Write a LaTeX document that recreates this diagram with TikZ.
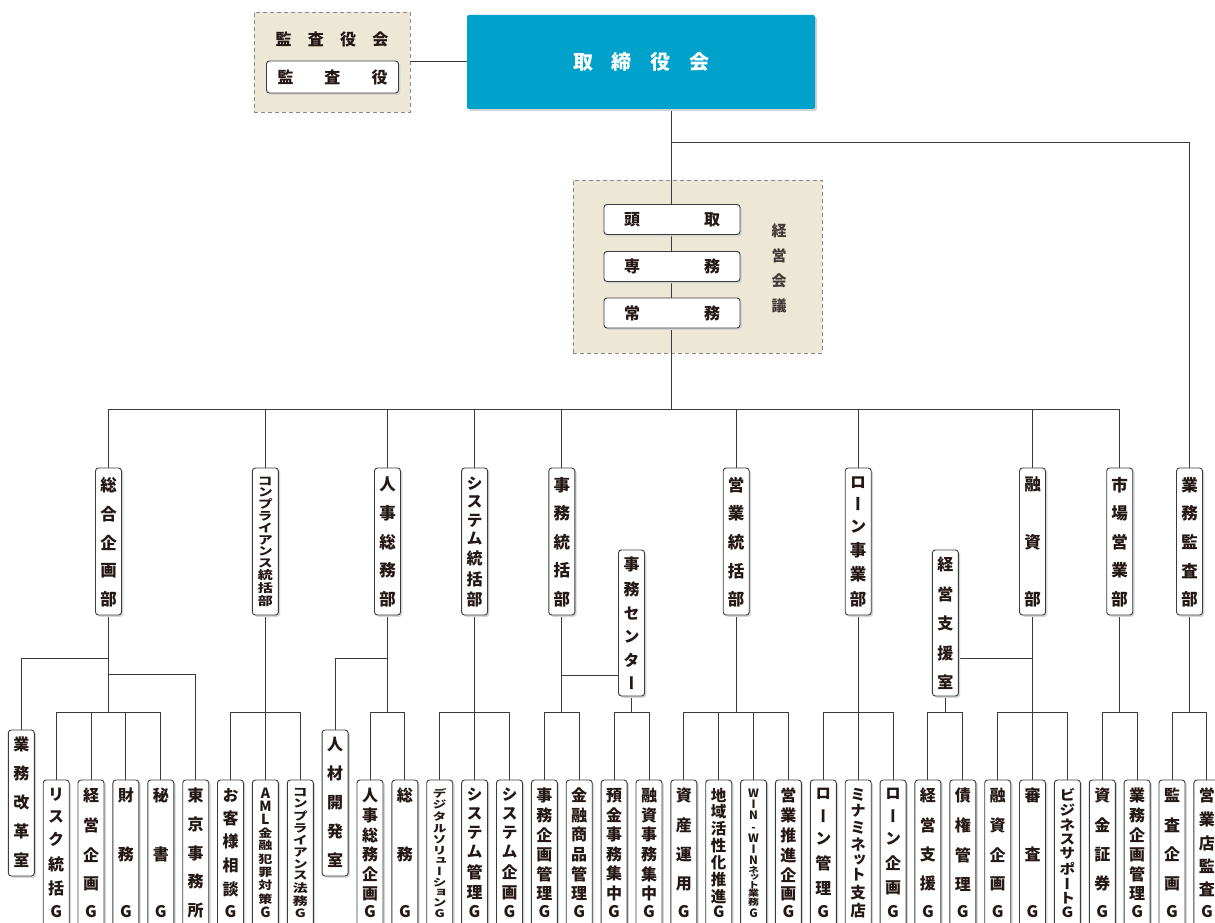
\documentclass[tikz,border=0pt]{standalone}
\usepackage{fontspec}
\usepackage{graphicx}
\setmainfont{Noto Sans CJK JP}
\newfontfamily\jpv{Noto Sans CJK JP}[RawFeature=+vert]
\usetikzlibrary{shadows}
\definecolor{linec}{HTML}{3A3A3A}
\definecolor{boxc}{HTML}{3C3C3C}
\definecolor{txt}{HTML}{231815}
\definecolor{beige}{HTML}{EDE7D6}
\definecolor{dashc}{HTML}{8A8A8A}
\definecolor{cyanbox}{HTML}{00A1CB}
\definecolor{shadowc}{HTML}{D4D4D4}
\makeatletter
\def\vt@stop{\vt@stop}
\def\vt@stopmark{\vt@stop}
\newcommand\VT[6]{% height, top pad, bottom pad, size, yscale, chars
  \parbox[c][#1pt][s]{26pt}{\centering\jpv\bfseries\fontsize{#4}{0}\selectfont
    \lineskip=0pt\lineskiplimit=0pt\def\vt@ys{#5}%
    \vspace*{#2pt}\vt@first#6\vt@stop\vspace*{#3pt}}}
\def\vt@first#1{\vt@char{#1}\par\vt@loop}
\def\vt@loop#1{\def\vt@arg{#1}\ifx\vt@arg\vt@stopmark\else\vfill\vt@char{#1}\par\expandafter\vt@loop\fi}
\def\vt@char#1{\scalebox{1}[\vt@ys]{#1}}
\makeatother
\newcommand\cnd[2]{\fontsize{#1}{0}\selectfont\scalebox{1}[0.8]{#2}}
\newcommand\lat[1]{\raisebox{0pt}[9.5pt][1pt]{#1}}
\newcommand\HT[3]{{\bfseries\fontsize{#2}{#2}\selectfont\makebox[#1pt][s]{#3}}}
\pgfdeclarelayer{bg}
\pgfdeclarelayer{lines}
\pgfsetlayers{bg,lines,main}
\tikzset{
  line/.style={draw=linec, line width=1pt},
  vbox/.style={draw=boxc, line width=0.9pt, fill=white, rounded corners=3pt, inner sep=0pt,
    minimum width=26pt, text=txt,
    drop shadow={shadow xshift=1.8pt, shadow yshift=-1.8pt, fill=shadowc, opacity=1}},
  council/.style={draw=dashc, dash pattern=on 4pt off 3pt, line width=0.9pt, fill=beige, inner sep=0pt},
}
\newcommand\bnode[5]{\node[vbox] (#1) at (#2,865) {\VT{170}{8}{32}{#3}{#4}{#5}};}
\newcommand\dnode[5]{\node[vbox] (#1) at (#2,541.5) {\VT{147}{9}{8}{#3}{#4}{#5}};}
\newcommand\grp[3]{\draw[line] (#1.north) -- (#1.north |- barY) -- (#2.north |- barY) -- (#2.north);
  \draw[line] (#3.south) -- (#3.south |- barY);}
\begin{document}
\begin{tikzpicture}[x=1pt,y=-1pt]
\useasboundingbox (0,0) rectangle (1215,923);
% ---- backgrounds
\begin{pgfonlayer}{bg}
\fill[white] (0,0) rectangle (1215,923);
\node[council, minimum width=156pt, minimum height=100pt] (kyk) at (332,62) {};
\node[council, minimum width=249pt, minimum height=173pt] (keiei) at (697.5,266.5) {};
\end{pgfonlayer}
% ---- top
\node[text=txt, inner sep=0pt] (kykt) at (332,39) {\HT{113}{16}{監\hfill 査\hfill 役\hfill 会}};
\node[vbox, minimum width=132pt, minimum height=32pt] (kansa) at (332.5,77) {\HT{110}{16}{監\hfill 査\hfill 役}};
\node[fill=cyanbox, rounded corners=2pt, minimum width=348pt, minimum height=94pt, inner sep=0pt, text=white,
  drop shadow={shadow xshift=2pt, shadow yshift=-2pt, fill=shadowc, opacity=1}] (tori) at (641,62)
  {\HT{136}{20}{取\hfill 締\hfill 役\hfill 会}};
\node[vbox, minimum width=136pt, minimum height=30pt] (todori) at (672,219.5) {\HT{96}{16}{頭\hfill 取}};
\node[vbox, minimum width=136pt, minimum height=30pt] (senmu) at (672,266.5) {\HT{96}{16}{専\hfill 務}};
\node[vbox, minimum width=136pt, minimum height=30pt] (jomu) at (672,313) {\HT{96}{16}{常\hfill 務}};
\node[inner sep=0pt, text=txt!85] (kkt) at (779,268.5) {\VT{89}{0}{0}{15}{1}{経営会議}};
% ---- departments
\dnode{d0}{108.5}{16.5}{1}{総合企画部}
\dnode{d1}{265.4}{15}{0.78}{コンプライアンス統括部}
\dnode{d2}{387.5}{16.5}{1}{人事総務部}
\dnode{d3}{474.6}{16}{1}{システム統括部}
\dnode{d4}{561.8}{16.5}{1}{事務統括部}
\dnode{d5}{736.2}{16.5}{1}{営業統括部}
\dnode{d6}{858.2}{16.5}{1}{ローン事業部}
\dnode{d7}{1032.5}{16.5}{1}{融資部}
\dnode{d8}{1119.7}{16.5}{1}{市場営業部}
\dnode{d9}{1189.5}{16.5}{1}{業務監査部}
\node[vbox] (jc) at (631.5,623) {\VT{146}{7}{6}{16}{1}{事務センター}};
\node[vbox] (ks) at (945.4,623) {\VT{146}{7}{6}{16}{1}{経営支援室}};
\node[vbox] (b0) at (21.3,803) {\VT{146}{7}{8}{16}{1}{業務改革室}};
\node[vbox] (b9) at (335.1,803) {\VT{146}{7}{8}{16}{1}{人材開発室}};
% ---- bottom groups
\bnode{b1}{56.2}{16}{1}{リスク統括G}
\bnode{b2}{91.0}{16}{1}{経営企画G}
\bnode{b3}{125.9}{16}{1}{財務G}
\bnode{b4}{160.8}{16}{1}{秘書G}
\bnode{b5}{195.7}{16}{1}{東京事務所}
\bnode{b6}{230.5}{16}{1}{お客様相談G}
\bnode{b7}{265.4}{14}{1}{AML{\cnd{14}{金}}{\cnd{14}{融}}{\cnd{14}{犯}}{\cnd{14}{罪}}{\cnd{14}{対}}{\cnd{14}{策}}G}
\bnode{b8}{300.3}{15}{0.76}{コンプライアンス法務G}
\bnode{b10}{370.0}{16}{1}{人事総務企画G}
\bnode{b11}{404.9}{16}{1}{総務G}
\bnode{b12}{439.7}{14}{0.75}{デジタルソリューションG}
\bnode{b13}{474.6}{16}{1}{システム管理G}
\bnode{b14}{509.5}{16}{1}{システム企画G}
\bnode{b15}{544.4}{16}{1}{事務企画管理G}
\bnode{b16}{579.2}{16}{1}{金融商品管理G}
\bnode{b17}{614.1}{16}{1}{預金事務集中G}
\bnode{b18}{649.0}{16}{1}{融資事務集中G}
\bnode{b19}{683.8}{16}{1}{資産運用G}
\bnode{b20}{718.7}{15.5}{1}{地域活性化推進G}
\bnode{b21}{753.6}{11.5}{1}{{\lat{W}}{\lat{I}}{\lat{N}}{\lat{-}}{\lat{W}}{\lat{I}}{\lat{N}}{\cnd{11}{ネ}}{\cnd{11}{ッ}}{\cnd{11}{ト}}{\cnd{11}{業}}{\cnd{11}{務}}{\lat{G}}}
\bnode{b22}{788.4}{16}{1}{営業推進企画G}
\bnode{b23}{823.3}{16}{1}{ローン管理G}
\bnode{b24}{858.2}{15.5}{1}{ミナミネット支店}
\bnode{b25}{893.1}{16}{1}{ローン企画G}
\bnode{b26}{927.9}{16}{1}{経営支援G}
\bnode{b27}{962.8}{16}{1}{債権管理G}
\bnode{b28}{997.7}{16}{1}{融資企画G}
\bnode{b29}{1032.5}{16}{1}{審査G}
\bnode{b30}{1067.4}{16}{0.88}{ビジネスサポートG}
\bnode{b31}{1102.3}{16}{1}{資金証券G}
\bnode{b32}{1137.1}{16}{1}{業務企画管理G}
\bnode{b33}{1172.0}{16}{1}{監査企画G}
\bnode{b34}{1206.9}{16}{1}{営業店監査G}
% ---- connectors
\begin{pgfonlayer}{lines}
\coordinate (trunk) at (671,409);
\coordinate (jt) at (671,143);
\coordinate (barY) at (0,712);
\coordinate (y658) at (0,658);
\coordinate (y674) at (0,674);
\coordinate (y675) at (0,675);
\draw[line] (kyk.east) -- (tori.west);
\draw[line] (tori.south -| trunk) -- (trunk);
\draw[line] (jt) -| (d9.north);
\draw[line] (d0.north |- trunk) -- (d8.north |- trunk);
\foreach \n in {d0,d1,d2,d3,d4,d5,d6,d7,d8} \draw[line] (\n.north) -- (\n.north |- trunk);
\grp{b1}{b4}{d0}
\grp{b6}{b8}{d1}
\grp{b10}{b11}{d2}
\grp{b12}{b14}{d3}
\grp{b15}{b16}{d4}
\grp{b17}{b18}{jc}
\grp{b19}{b22}{d5}
\grp{b23}{b25}{d6}
\grp{b26}{b27}{ks}
\grp{b28}{b30}{d7}
\grp{b31}{b32}{d8}
\grp{b33}{b34}{d9}
\foreach \n in {b2,b3,b7,b13,b20,b21,b24,b29} \draw[line] (\n.north) -- (\n.north |- barY);
\draw[line] (d0.south |- y658) -| (b0.north);
\draw[line] (d0.south |- y674) -| (b5.north);
\draw[line] (d2.south |- y658) -| (b9.north);
\draw[line] (d4.south |- y675) -- (jc.west |- y675);
\draw[line] (ks.east |- y658) -- (d7.south |- y658);
\end{pgfonlayer}
\end{tikzpicture}
\end{document}
